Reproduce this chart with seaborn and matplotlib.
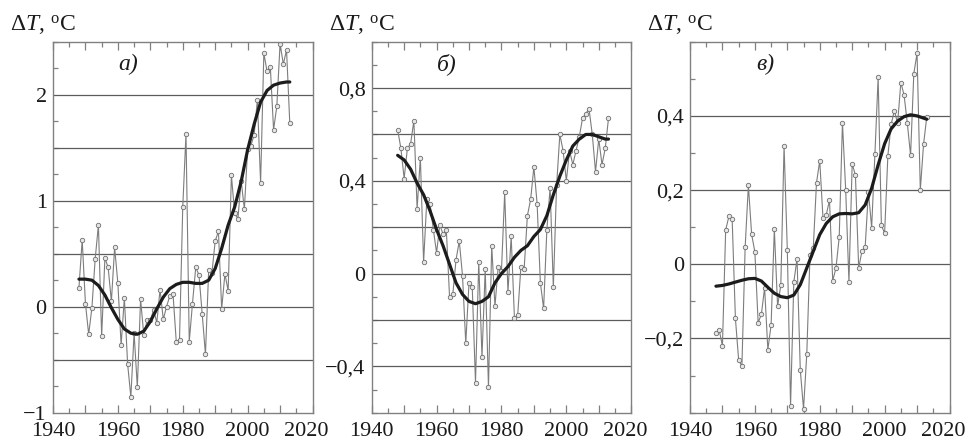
import matplotlib
matplotlib.use("Agg")
import matplotlib.pyplot as plt
from matplotlib.ticker import MultipleLocator, FixedLocator, FixedFormatter, FuncFormatter
from matplotlib.transforms import offset_copy
import seaborn as sns
import pandas as pd

# Annual temperature anomalies, 1948-2013
years = list(range(1948, 2014))

dt_a = [0.18, 0.63, 0.03, -0.26, -0.01, 0.45, 0.77, -0.28, 0.46, 0.37,
        0.05, 0.56, 0.22, -0.36, 0.08, -0.54, -0.85, -0.25, -0.76, 0.07,
        -0.27, -0.13, -0.13, -0.03, -0.15, 0.16, -0.12, 0.00, 0.10, 0.12,
        -0.33, -0.31, 0.94, 1.63, -0.33, 0.03, 0.37, 0.30, -0.07, -0.45,
        0.35, 0.32, 0.62, 0.71, -0.02, 0.31, 0.15, 1.24, 0.88, 0.83,
        1.19, 0.92, 1.49, 1.52, 1.62, 1.95, 1.17, 2.39, 2.22, 2.26,
        1.67, 1.89, 2.48, 2.29, 2.42, 1.73]

dt_b = [0.62, 0.54, 0.41, 0.54, 0.56, 0.66, 0.28, 0.50, 0.05, 0.32,
        0.30, 0.19, 0.09, 0.21, 0.17, 0.19, -0.10, -0.09, 0.06, 0.14,
        -0.01, -0.30, -0.04, -0.06, -0.47, 0.05, -0.36, 0.02, -0.49, 0.12,
        -0.14, 0.03, 0.01, 0.35, -0.08, 0.16, -0.19, -0.18, 0.03, 0.02,
        0.25, 0.32, 0.46, 0.30, -0.04, -0.15, 0.19, 0.37, -0.06, 0.38,
        0.60, 0.53, 0.40, 0.53, 0.47, 0.53, 0.59, 0.67, 0.69, 0.71,
        0.60, 0.44, 0.58, 0.47, 0.54, 0.67]

dt_c = [-0.184, -0.177, -0.22, 0.093, 0.129, 0.121, -0.146, -0.258, -0.275, 0.046,
        0.213, 0.081, 0.033, -0.157, -0.135, -0.063, -0.23, -0.164, 0.095, -0.113,
        -0.056, 0.319, 0.039, -0.382, -0.048, 0.015, -0.285, -0.39, -0.242, 0.026,
        0.044, 0.22, 0.279, 0.124, 0.133, 0.173, -0.044, -0.01, 0.073, 0.382,
        0.20, -0.047, 0.271, 0.24, -0.01, 0.035, 0.046, 0.196, 0.099, 0.296,
        0.504, 0.105, 0.084, 0.293, 0.377, 0.414, 0.38, 0.49, 0.456, 0.38,
        0.294, 0.514, 0.569, 0.20, 0.323, 0.398]

# Smoothed trend curves
trend_years = list(range(1948, 2013, 2)) + [2013]

trend_a = [0.26, 0.26, 0.25, 0.20, 0.11, -0.01, -0.12, -0.21, -0.25, -0.26,
           -0.23, -0.14, -0.02, 0.09, 0.17, 0.21, 0.23, 0.23, 0.22, 0.22,
           0.25, 0.36, 0.55, 0.77, 0.94, 1.18, 1.48, 1.72, 1.93, 2.04,
           2.09, 2.11, 2.12, 2.12]

trend_b = [0.51, 0.49, 0.45, 0.39, 0.34, 0.27, 0.19, 0.12, 0.04, -0.04,
           -0.09, -0.12, -0.13, -0.12, -0.10, -0.04, 0.00, 0.03, 0.07, 0.10,
           0.12, 0.16, 0.19, 0.25, 0.34, 0.42, 0.49, 0.55, 0.58, 0.60,
           0.60, 0.59, 0.58, 0.58]

trend_c = [-0.059, -0.057, -0.053, -0.048, -0.043, -0.039, -0.038, -0.045, -0.062, -0.078,
           -0.087, -0.090, -0.083, -0.055, -0.010, 0.035, 0.080, 0.110, 0.128, 0.136,
           0.137, 0.136, 0.139, 0.160, 0.205, 0.268, 0.325, 0.365, 0.386, 0.398,
           0.403, 0.400, 0.394, 0.391]

panel_labels = ["а)", "б)", "в)"]
ylims = [(-1.0, 2.5), (-0.6, 1.0), (-0.4, 0.6)]
grid_values = [[-0.5, 0.0, 0.5, 1.0, 1.5, 2.0],
               [-0.4, -0.2, 0.0, 0.2, 0.4, 0.6, 0.8],
               [-0.2, 0.0, 0.2, 0.4]]
label_values = [[-1.0, 0.0, 1.0, 2.0],
                [-0.4, 0.0, 0.4, 0.8],
                [-0.2, 0.0, 0.2, 0.4]]
label_texts = [["\u22121", "0", "1", "2"],
               ["\u22120,4", "0", "0,4", "0,8"],
               ["\u22120,2", "0", "0,2", "0,4"]]
minor_steps = [0.25, 0.1, 0.1]

sns.set_style("white")
plt.rcParams["font.family"] = ["Liberation Serif", "DejaVu Serif"]
plt.rcParams["mathtext.fontset"] = "custom"
plt.rcParams["mathtext.rm"] = "Liberation Serif"
plt.rcParams["mathtext.it"] = "Liberation Serif:italic"

fig = plt.figure(figsize=(9.66, 4.41), dpi=100)
W, H = 966.0, 441.0
lefts = [53.0, 371.7, 690.0]
ax_w = 259.5
ax_bottom = 28.3
ax_h = 371.0

series = [dt_a, dt_b, dt_c]
trends = [trend_a, trend_b, trend_c]

spine_col = "#808080"
grid_col = "#5c5c5c"
text_col = "#1a1a1a"
tick_fs = 16
xpad = 7

for i in range(3):
    ax = fig.add_axes([lefts[i] / W, ax_bottom / H, ax_w / W, ax_h / H])
    df = pd.DataFrame({"year": years, "dT": series[i]})
    tf = pd.DataFrame({"year": trend_years, "dT": trends[i]})

    # horizontal reference lines
    for g in grid_values[i]:
        ax.axhline(g, color=grid_col, lw=0.9, zorder=1)

    sns.lineplot(data=df, x="year", y="dT", ax=ax, color="#7d7d7d", lw=0.8,
                 marker="o", markersize=3.2, markerfacecolor="#e6e6e6",
                 markeredgecolor="#6e6e6e", markeredgewidth=0.6, zorder=2)
    sns.lineplot(data=tf, x="year", y="dT", ax=ax, color="#1c1c1c", lw=2.3,
                 zorder=3)

    ax.set_xlim(1940, 2020)
    ax.set_ylim(*ylims[i])
    ax.set_xlabel("")
    ax.set_ylabel("")

    # x ticks: every 10 years major, 5 years minor, labels every 20 years;
    # the last year label sits a little inside the right edge
    ax.xaxis.set_major_locator(MultipleLocator(10))
    ax.xaxis.set_minor_locator(MultipleLocator(5))
    ax.xaxis.set_major_formatter(
        FuncFormatter(lambda v, p: f"{int(round(v))}"
                      if int(round(v)) % 20 == 0 and int(round(v)) < 2020 else ""))
    end_tr = offset_copy(ax.get_xaxis_transform(), fig=fig, x=-4.3, y=-xpad,
                         units="points")
    ax.text(2020, 0, "2020", transform=end_tr, ha="center", va="top",
            fontsize=tick_fs, color=text_col)

    # y ticks: labelled values, minor ticks in between
    ax.yaxis.set_major_locator(FixedLocator(label_values[i]))
    ax.yaxis.set_major_formatter(FixedFormatter(label_texts[i]))
    ax.yaxis.set_minor_locator(MultipleLocator(minor_steps[i]))

    ax.tick_params(axis="both", which="both", direction="in", colors=spine_col,
                   labelcolor=text_col, labelsize=tick_fs, width=0.9)
    ax.tick_params(axis="x", which="major", length=6, top=True, bottom=True, pad=xpad)
    ax.tick_params(axis="x", which="minor", length=3.5, top=True, bottom=True)
    ax.tick_params(axis="y", which="major", length=0, left=True, right=False, pad=4.5)
    ax.tick_params(axis="y", which="minor", length=3.5, left=True, right=False)
    ax.grid(False)

    for s in ax.spines.values():
        s.set_color(spine_col)
        s.set_linewidth(1.0)

    ax.text(0.29, 0.94, panel_labels[i], transform=ax.transAxes, ha="center",
            va="center", fontsize=17, style="italic", color=text_col)

    fig.text((lefts[i] - 43) / W, 1 - 31 / H, r"$\Delta T$, $^{\mathrm{o}}$C",
             fontsize=17, color=text_col, ha="left", va="baseline")

fig.savefig("out.png", dpi=100)
